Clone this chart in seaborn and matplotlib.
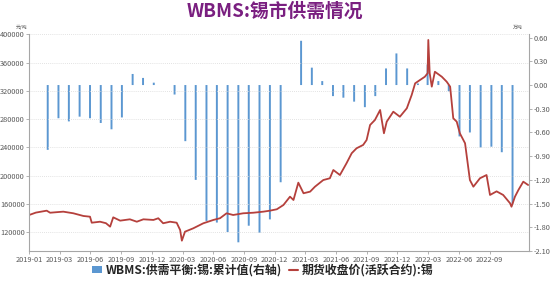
import numpy as np
import pandas as pd
import matplotlib
matplotlib.use("Agg")
import matplotlib.pyplot as plt
import seaborn as sns
from matplotlib.patches import Patch
from matplotlib.lines import Line2D

# ---------------- data ----------------
bar_months = pd.period_range("2019-02", "2022-10", freq="M").strftime("%Y-%m").tolist()
bar_values = [-0.82, -0.42, -0.46, -0.40, -0.42, -0.48, -0.56, -0.41, 0.14, 0.09, 0.03,
              0.00, -0.12, -0.71, -1.20, -1.72, -1.74, -1.86, -1.99, -1.78, -1.87, -1.70, -1.23,
              0.00, 0.56, 0.22, 0.05, -0.14, -0.16, -0.21, -0.28, -0.14, 0.21, 0.40, 0.21,
              0.02, 0.26, 0.05, -0.08, -0.65, -0.60, -0.79, -0.78, -0.85, -1.50]

line_dates = ["2019-01-05", "2019-01-25", "2019-02-25", "2019-03-07", "2019-03-24", "2019-04-14",
              "2019-05-13", "2019-06-11", "2019-06-30", "2019-07-05", "2019-07-29", "2019-08-15",
              "2019-08-27", "2019-09-05", "2019-09-25", "2019-10-23", "2019-11-12", "2019-12-01",
              "2019-12-30", "2020-01-13", "2020-01-27", "2020-02-16", "2020-03-06", "2020-03-16",
              "2020-03-21", "2020-03-30", "2020-04-23", "2020-05-22", "2020-06-20", "2020-07-09",
              "2020-07-28", "2020-08-16", "2020-09-14", "2020-10-13", "2020-11-11", "2020-11-30",
              "2020-12-20", "2021-01-08", "2021-01-27", "2021-02-06", "2021-02-20", "2021-03-07",
              "2021-03-26", "2021-04-09", "2021-05-03", "2021-05-22", "2021-06-01", "2021-06-20",
              "2021-07-09", "2021-07-24", "2021-08-07", "2021-08-26", "2021-09-05", "2021-09-15",
              "2021-09-29", "2021-10-14", "2021-10-25", "2021-11-02", "2021-11-21", "2021-12-10",
              "2021-12-30", "2022-01-13", "2022-01-23", "2022-02-06", "2022-02-20", "2022-02-28",
              "2022-03-02", "2022-03-06", "2022-03-12", "2022-03-21", "2022-04-10", "2022-04-24",
              "2022-05-04", "2022-05-13", "2022-05-23", "2022-06-01", "2022-06-16", "2022-06-30",
              "2022-07-10", "2022-07-29", "2022-08-17", "2022-08-27", "2022-09-15", "2022-10-04",
              "2022-10-24", "2022-10-28", "2022-11-07", "2022-11-17", "2022-12-01", "2022-12-15"]
line_values = [144500, 148000, 150700, 147800, 148500, 149300,
               147000, 143200, 142200, 133700, 135100, 133000,
               128100, 141300, 136600, 138500, 135100, 138500,
               137600, 140000, 132900, 135100, 133700, 123400,
               108300, 121000, 125800, 132900, 137600, 140000,
               147000, 144600, 147000, 147800, 149300, 150700,
               152700, 158700, 170500, 165800, 190300, 175300,
               177600, 184600, 194000, 196500, 208200, 201100,
               217700, 231900, 238900, 243600, 250600, 271800,
               278900, 293000, 260100, 276500, 290600, 283500,
               295400, 314200, 330700, 335400, 340000, 345000,
               392000, 345000, 326000, 347100, 340000, 333000,
               326000, 281300, 276500, 260100, 246000, 194000,
               184600, 196500, 201100, 172900, 178000, 172900,
               161100, 156300, 170500, 180000, 191700, 187000]

x_tick_labels = ["2019-01", "2019-03", "2019-06", "2019-09", "2019-12", "2020-03", "2020-06",
                 "2020-09", "2020-12", "2021-03", "2021-06", "2021-09", "2021-12", "2022-03",
                 "2022-06", "2022-09"]

title = "WBMS:锡市供需情况"
bar_name = "WBMS:供需平衡:锡:累计值(右轴)"
line_name = "期货收盘价(活跃合约):锡"

# ---------------- prep ----------------
origin = pd.Timestamp("2019-01-01")
bars = pd.DataFrame({
    "day": [(pd.Period(m, "M").end_time.normalize() - origin).days for m in bar_months],
    "val": bar_values,
})
line = pd.DataFrame({
    "day": [(pd.Timestamp(d) - origin).days for d in line_dates],
    "price": line_values,
})

sns.set_theme(style="white")
plt.rcParams["font.family"] = ["Noto Sans CJK SC", "DejaVu Sans"]
plt.rcParams["axes.unicode_minus"] = False

BLUE = "#5b97d1"
RED = "#b5403c"
GRID = "#d9d9d9"
AX = "#a6a6a6"
TXT = "#595959"

fig = plt.figure(figsize=(5.5, 2.81), dpi=100)
ax = fig.add_axes([29 / 550, 1 - 251 / 281, 500 / 550, (251 - 34.3) / 281])
ax2 = ax.twinx()

# bars on right axis
sns.barplot(data=bars, x="day", y="val", ax=ax2, native_scale=True, color=BLUE,
            width=0.2, saturation=1, linewidth=0, errorbar=None)
for p in ax2.patches:
    p.set_snap(False)
# line on left axis
ax.set_zorder(ax2.get_zorder() + 1)
ax.patch.set_visible(False)
sns.lineplot(data=line, x="day", y="price", ax=ax, color=RED, linewidth=1.3)

xmin, xmax = 4, 1446.5
ax.set_xlim(xmin, xmax)
ax2.set_xlim(xmin, xmax)
tick_pos = [xmin + i * 88.57 for i in range(len(x_tick_labels))]
ax.set_xticks(tick_pos)
ax.set_xticklabels(x_tick_labels)

ax.set_ylim(93700, 400000)
ax.set_yticks(np.arange(120000, 400001, 40000))
ax.set_yticklabels([str(v) for v in range(120000, 400001, 40000)])
ax2.set_ylim(-2.10, 0.642)
rt = np.round(np.arange(-2.10, 0.61, 0.30), 2)
ax2.set_yticks(rt)
ax2.set_yticklabels([f"{v:.2f}" for v in rt])

ax.set_xlabel("")
ax.set_ylabel("")
ax2.set_xlabel("")
ax2.set_ylabel("")

ax.grid(axis="y", color=GRID, linestyle=(0, (1, 1.5)), linewidth=0.6)
ax.grid(axis="x", visible=False)
ax2.grid(False)

for a in (ax, ax2):
    for s in a.spines.values():
        s.set_visible(False)
ax.spines["left"].set_visible(True)
ax.spines["left"].set_color(AX)
ax.spines["left"].set_linewidth(0.8)
ax.spines["bottom"].set_visible(True)
ax.spines["bottom"].set_color(AX)
ax.spines["bottom"].set_linewidth(0.8)
ax2.spines["right"].set_visible(True)
ax2.spines["right"].set_color(AX)
ax2.spines["right"].set_linewidth(0.8)

ax.tick_params(axis="y", left=True, length=2, width=0.6, color=AX, labelsize=5.3,
               labelcolor=TXT, pad=1)
ax.tick_params(axis="x", bottom=True, length=2, width=0.6, color=AX, labelsize=5.3,
               labelcolor=TXT, pad=1.5)
ax2.tick_params(axis="y", right=True, length=2, width=0.6, color=AX, labelsize=5.3,
                labelcolor=TXT, pad=1)

fig.text(275 / 550, 1 - 11 / 281, title, ha="center", va="center", fontsize=13.5,
         fontweight="bold", color="#7a1f80")
fig.text(22 / 550, 1 - 27 / 281, "元/吨", ha="center", va="center", fontsize=3.5, color=TXT)
fig.text(518 / 550, 1 - 27 / 281, "万吨", ha="center", va="center", fontsize=3.5, color=TXT)

handles = [Patch(facecolor=BLUE, edgecolor="none"),
           Line2D([0], [0], color=RED, linewidth=1.5)]
leg = fig.legend(handles, [bar_name, line_name], loc="center", ncol=2,
                 bbox_to_anchor=(263 / 550, 1 - 270 / 281), frameon=False,
                 prop={"weight": "bold", "size": 8.6}, handlelength=0.8, handleheight=0.5,
                 handletextpad=0.3, columnspacing=0.6)

fig.savefig("out.png", dpi=100)
